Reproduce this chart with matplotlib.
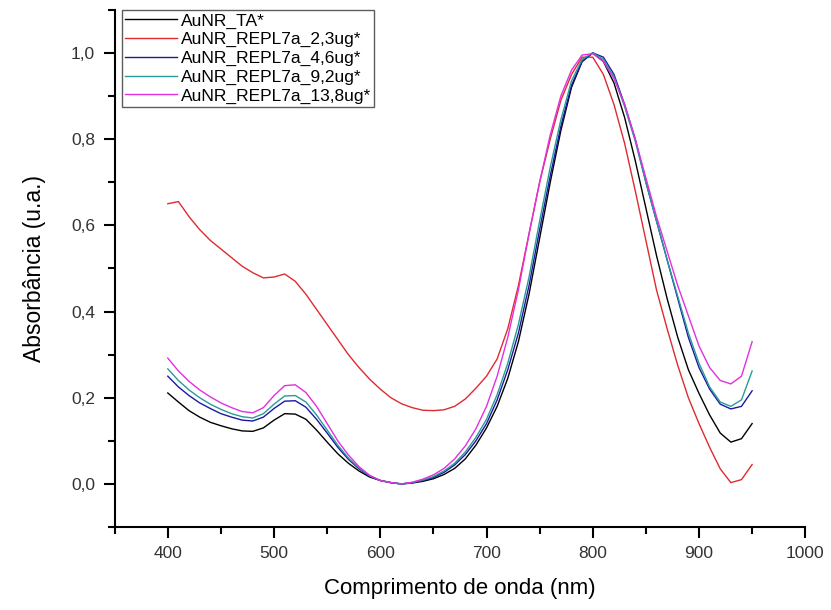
import matplotlib
matplotlib.use("Agg")
import matplotlib.pyplot as plt
from matplotlib.ticker import MultipleLocator, FuncFormatter

plt.rcParams["font.family"] = ["Liberation Sans", "DejaVu Sans"]

# comprimento de onda (nm), grade de 10 nm
wavelength = list(range(400, 951, 10))

abs_ta = [
    0.211, 0.190, 0.170, 0.155, 0.143, 0.135, 0.128, 0.123, 0.122, 0.130,
    0.148, 0.163, 0.162, 0.150, 0.125, 0.097, 0.070, 0.048, 0.030, 0.016,
    0.008, 0.003, 0.000, 0.002, 0.006, 0.012, 0.022, 0.036, 0.058, 0.090,
    0.130, 0.180, 0.245, 0.330, 0.440, 0.570, 0.700, 0.820, 0.920, 0.980,
    1.000, 0.980, 0.930, 0.850, 0.750, 0.640, 0.530, 0.430, 0.340, 0.265,
    0.210, 0.160, 0.118, 0.097, 0.105, 0.140,
]
abs_2_3 = [
    0.650, 0.655, 0.620, 0.590, 0.565, 0.545, 0.525, 0.505, 0.490, 0.478,
    0.480, 0.487, 0.470, 0.440, 0.405, 0.370, 0.335, 0.300, 0.270, 0.243,
    0.220, 0.200, 0.186, 0.177, 0.171, 0.170, 0.172, 0.180, 0.197, 0.222,
    0.250, 0.290, 0.360, 0.460, 0.580, 0.700, 0.800, 0.890, 0.950, 0.990,
    0.990, 0.950, 0.880, 0.790, 0.680, 0.565, 0.450, 0.360, 0.275, 0.200,
    0.140, 0.085, 0.035, 0.003, 0.010, 0.045,
]
abs_4_6 = [
    0.250, 0.225, 0.205, 0.188, 0.175, 0.163, 0.155, 0.148, 0.146, 0.155,
    0.175, 0.192, 0.193, 0.178, 0.150, 0.118, 0.085, 0.057, 0.035, 0.018,
    0.008, 0.003, 0.000, 0.003, 0.008, 0.015, 0.027, 0.044, 0.068, 0.100,
    0.140, 0.195, 0.265, 0.350, 0.460, 0.590, 0.715, 0.830, 0.925, 0.980,
    1.000, 0.990, 0.950, 0.880, 0.800, 0.700, 0.610, 0.520, 0.430, 0.340,
    0.270, 0.220, 0.185, 0.174, 0.180, 0.216,
]
abs_9_2 = [
    0.267, 0.240, 0.218, 0.200, 0.185, 0.173, 0.163, 0.156, 0.153, 0.163,
    0.185, 0.204, 0.205, 0.190, 0.160, 0.125, 0.090, 0.060, 0.037, 0.019,
    0.008, 0.003, 0.000, 0.003, 0.009, 0.017, 0.030, 0.048, 0.074, 0.108,
    0.150, 0.207, 0.280, 0.370, 0.480, 0.610, 0.735, 0.845, 0.935, 0.985,
    1.000, 0.985, 0.945, 0.875, 0.795, 0.700, 0.610, 0.520, 0.435, 0.350,
    0.280, 0.225, 0.190, 0.180, 0.195, 0.262,
]
abs_13_8 = [
    0.292, 0.262, 0.238, 0.218, 0.202, 0.188, 0.177, 0.168, 0.165, 0.177,
    0.205, 0.228, 0.230, 0.212, 0.180, 0.140, 0.100, 0.067, 0.040, 0.020,
    0.008, 0.003, 0.000, 0.004, 0.011, 0.021, 0.036, 0.058, 0.088, 0.128,
    0.180, 0.250, 0.340, 0.450, 0.580, 0.700, 0.810, 0.900, 0.960, 0.995,
    0.998, 0.980, 0.940, 0.880, 0.800, 0.710, 0.620, 0.540, 0.460, 0.390,
    0.320, 0.270, 0.240, 0.232, 0.250, 0.330,
]

series = [
    ("AuNR_TA*", abs_ta, "#000000"),
    ("AuNR_REPL7a_2,3ug*", abs_2_3, "#e02a30"),
    ("AuNR_REPL7a_4,6ug*", abs_4_6, "#1a1aa0"),
    ("AuNR_REPL7a_9,2ug*", abs_9_2, "#2a9a9a"),
    ("AuNR_REPL7a_13,8ug*", abs_13_8, "#e030e0"),
]


def main():
    fig = plt.figure(figsize=(8.31, 6.10), dpi=100)
    ax = fig.add_axes([0.138, 0.136, 0.831, 0.848])

    for label, vals, color in series:
        ax.plot(wavelength, vals, color=color, linewidth=1.0, label=label)

    ax.set_xlim(350, 1000)
    ax.set_ylim(-0.1, 1.1)
    ax.xaxis.set_major_locator(MultipleLocator(100))
    ax.xaxis.set_minor_locator(MultipleLocator(50))
    ax.yaxis.set_major_locator(MultipleLocator(0.2))
    ax.yaxis.set_minor_locator(MultipleLocator(0.1))
    ax.xaxis.set_major_formatter(
        FuncFormatter(lambda v, p: "" if v < 399 else f"{v:.0f}")
    )
    ax.yaxis.set_major_formatter(
        FuncFormatter(lambda v, p: f"{v:.1f}".replace(".", ","))
    )

    for side in ("top", "right"):
        ax.spines[side].set_visible(False)
    for side in ("left", "bottom"):
        ax.spines[side].set_linewidth(1.5)
    ax.tick_params(axis="both", which="major", direction="out", length=8,
                   width=1.5, labelsize=12.5, pad=6, labelcolor="#333333")
    ax.tick_params(axis="both", which="minor", direction="out", length=5,
                   width=1.5)

    ax.set_xlabel("Comprimento de onda (nm)", fontsize=16, labelpad=12)
    ax.set_ylabel("Absorbância (u.a.)", fontsize=16.5, labelpad=18)

    leg = ax.legend(loc="upper left", bbox_to_anchor=(0.01, 1.0),
                    borderaxespad=0.0, fontsize=12.5, frameon=True, fancybox=False,
                    handlelength=3.0, handletextpad=0.2, labelspacing=0.2,
                    borderpad=0.2)
    leg.get_frame().set_edgecolor("#333333")
    leg.get_frame().set_linewidth(1.0)

    fig.savefig("out.png", dpi=100)
    plt.close(fig)


if __name__ == "__main__":
    main()
